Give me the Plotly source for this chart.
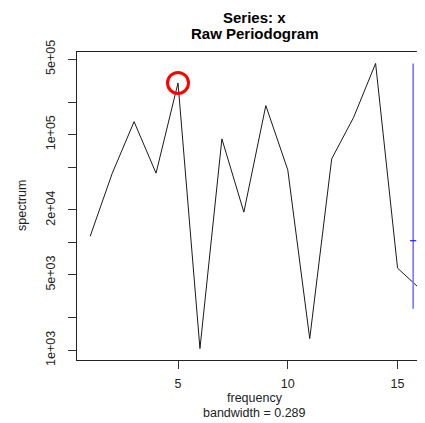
import plotly.graph_objects as go

# ---- data ----
frequency = list(range(1, 17))
spectrum = [11400, 43500, 131800, 43900, 301400, 1037, 91200, 19100,
            185800, 47100, 1283, 59600, 144600, 457000, 5780, 3750]
bandwidth = 0.289
ci_low, ci_mid, ci_high = 2430, 10370, 457000
highlight_freq = 5
y_tickvals = [1e3, 2e3, 5e3, 1e4, 2e4, 5e4, 1e5, 2e5, 5e5]
y_ticktext = ["1e+03", "", "5e+03", "", "2e+04", "", "1e+05", "", "5e+05"]
x_tickvals = [5, 10, 15]

FONT = "Liberation Sans, Arial, sans-serif"
ci_x = frequency[-1] - bandwidth
hl_val = spectrum[frequency.index(highlight_freq)]

# the page body has an 8px margin; page pixel targets are converted below
OFF = 8
FIG_W, FIG_H = 425 - OFF, 423 - OFF
PLOT_L, PLOT_T, PLOT_B = 77, 52, 360          # page pixels
H_PLOT = PLOT_B - PLOT_T
W_PLOT = 425 - PLOT_L

def py(pix):
    return (PLOT_B - pix) / H_PLOT

def px(pix):
    return (pix - PLOT_L) / W_PLOT

fig = go.Figure()
fig.add_trace(go.Scatter(x=frequency, y=spectrum, mode="lines",
                         line=dict(color="#1a1a1a", width=1), hoverinfo="skip"))
fig.add_trace(go.Scatter(x=[ci_x, ci_x], y=[ci_low, ci_high], mode="lines",
                         line=dict(color="#7878ff", width=1.6), hoverinfo="skip"))
fig.add_trace(go.Scatter(x=[ci_x - bandwidth / 2, ci_x + bandwidth / 2], y=[ci_mid, ci_mid],
                         mode="lines", line=dict(color="blue", width=1), hoverinfo="skip"))
fig.add_trace(go.Scatter(x=[highlight_freq], y=[hl_val], mode="markers",
                         marker=dict(symbol="circle-open", size=21, color="red",
                                     line=dict(color="red", width=3)),
                         hoverinfo="skip"))

fig.update_layout(
    width=FIG_W, height=FIG_H,
    margin=dict(l=PLOT_L - OFF, r=0, t=PLOT_T - OFF, b=FIG_H - (PLOT_B - OFF)),
    paper_bgcolor="white", plot_bgcolor="white",
    showlegend=False,
    font=dict(family=FONT, size=12.5, color="black"),
    xaxis=dict(range=[0.4, 16.25], tickvals=x_tickvals, ticks="outside", ticklen=8,
               tickcolor="#333", showline=True, linecolor="#222", linewidth=1,
               mirror=True, showgrid=False, zeroline=False,
               tickfont=dict(family=FONT, size=12.5, color="#222"),
               ticklabelstandoff=4),
    yaxis=dict(type="log", range=[2.910, 5.766], tickvals=y_tickvals,
               ticktext=y_ticktext, ticks="outside", ticklen=8, tickcolor="#333",
               tickangle=-90, showline=True, linecolor="#222", linewidth=1,
               mirror=False, showgrid=False, zeroline=False,
               tickfont=dict(family=FONT, size=12.5, color="#222"),
               ticklabelstandoff=8),
    annotations=[
        dict(text="<b>Series: x</b>", x=8.5, xref="x", y=py(18), yref="paper",
             xanchor="center", yanchor="middle", showarrow=False,
             font=dict(size=15, family=FONT)),
        dict(text="<b>Raw Periodogram</b>", x=8.5, xref="x", y=py(34), yref="paper",
             xanchor="center", yanchor="middle", showarrow=False,
             font=dict(size=15, family=FONT)),
        dict(text="frequency", x=8.5, xref="x", y=py(398), yref="paper",
             xanchor="center", yanchor="middle", showarrow=False,
             font=dict(size=12.5, family=FONT, color="#222")),
        dict(text="bandwidth = 0.289", x=8.5, xref="x", y=py(412.5), yref="paper",
             xanchor="center", yanchor="middle", showarrow=False,
             font=dict(size=12.5, family=FONT, color="#222")),
        dict(text="spectrum", x=px(22), xref="paper", y=py(206), yref="paper",
             xanchor="center", yanchor="middle", textangle=-90, showarrow=False,
             font=dict(size=12.5, family=FONT, color="#222")),
    ],
)

fig.write_html("out.html")
